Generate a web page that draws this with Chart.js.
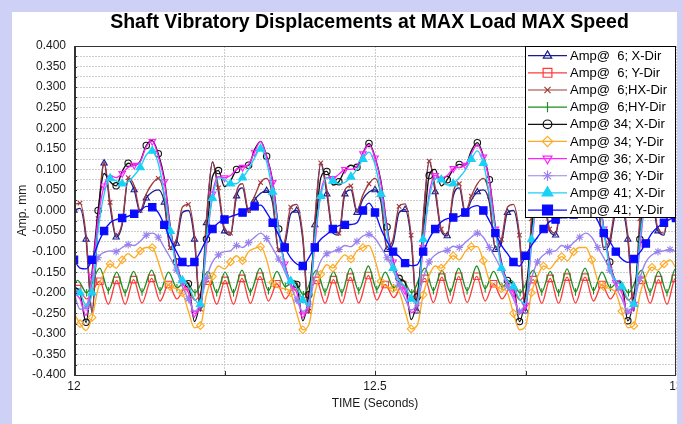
<!DOCTYPE html>
<html><head><meta charset="utf-8">
<script src="https://cdn.jsdelivr.net/npm/chart.js@4.4.1/dist/chart.umd.min.js"></script>
<style>html,body{margin:0;padding:0;background:#fff;overflow:hidden}canvas{display:block}</style>
</head><body>
<canvas id="c" width="683" height="424" style="width:683px;height:424px"></canvas>
<script>
const TITLE = 'Shaft Vibratory Displacements at MAX Load MAX Speed';
const X_TITLE = 'TIME (Seconds)';
const Y_TITLE = 'Amp. mm';
const X_TICK_LABELS = { '12': '12', '12.5': '12.5', '13': '13' };
const LABELS = ['Amp@  6; X-Dir','Amp@  6; Y-Dir','Amp@  6;HX-Dir','Amp@  6;HY-Dir','Amp@ 34; X-Dir',
                'Amp@ 34; Y-Dir','Amp@ 36; X-Dir','Amp@ 36; Y-Dir','Amp@ 41; X-Dir','Amp@ 41; Y-Dir'];

// time stamps (s), common sampling
const T = [12,12.01,12.02,12.03,12.04,12.05,12.06,12.07,12.08,12.09,12.1,12.11,12.12,12.13,12.14,12.15,12.16,12.17,12.18,12.19,
12.2,12.21,12.22,12.23,12.24,12.25,12.26,12.27,12.28,12.29,12.3,12.31,12.32,12.33,12.34,12.35,12.36,12.37,12.38,12.39,
12.4,12.41,12.42,12.43,12.44,12.45,12.46,12.47,12.48,12.49,12.5,12.51,12.52,12.53,12.54,12.55,12.56,12.57,12.58,12.59,
12.6,12.61,12.62,12.63,12.64,12.65,12.66,12.67,12.68,12.69,12.7,12.71,12.72,12.73,12.74,12.75,12.76,12.77,12.78,12.79,
12.8,12.81,12.82,12.83,12.84,12.85,12.86,12.87,12.88,12.89,12.9,12.91,12.92,12.93,12.94,12.95,12.96,12.97,12.98,12.99,13];

// time stamps (s) of the ripple turning points used for the Y / HY probes at station 6
const TR = [12.000,12.006,12.021,12.043,12.057,12.071,12.085,12.099,12.113,
12.129,12.143,12.157,12.171,12.186,12.201,12.223,12.237,12.251,12.265,12.279,12.293,
12.309,12.323,12.337,12.351,12.366,12.381,12.403,12.417,12.431,12.445,12.459,12.473,
12.489,12.503,12.517,12.531,12.546,12.561,12.583,12.597,12.611,12.625,12.639,12.653,
12.669,12.683,12.697,12.711,12.726,12.741,12.763,12.777,12.791,12.805,12.819,12.833,
12.849,12.863,12.877,12.891,12.906,12.921,12.943,12.957,12.971,12.985,12.999,13.013];

const AMP6_X = [0.0,0.005,-0.07,-0.25,-0.03,0.115,0.01,-0.065,-0.035,0.075,0.05,-0.005,0.03,
0.045,0.05,0.02,-0.095,-0.08,-0.005,0.0,-0.07,-0.245,-0.03,0.118,0.045,-0.05,-0.06,0.035,0.055,-0.005,0.025,
0.042,0.048,0.018,-0.1,-0.085,-0.008,0.0,-0.07,-0.25,-0.035,0.115,0.04,-0.055,-0.06,0.04,0.05,-0.005,0.028,
0.045,0.05,0.02,-0.095,-0.08,-0.005,0.002,-0.07,-0.245,-0.03,0.12,0.045,-0.05,-0.062,0.035,0.055,-0.008,0.025,
0.045,0.05,0.02,-0.095,-0.08,-0.005,0.0,-0.07,-0.245,-0.03,0.118,0.045,-0.05,-0.06,0.035,0.055,-0.005,0.025,
0.045,0.05,0.02,-0.095,-0.08,-0.005,0.0,-0.07,-0.245,-0.03,0.118,0.045,-0.05,-0.06,0.035,0.055];

const AMP6_Y = [-0.2,-0.19,-0.215,-0.172,-0.228,-0.17,-0.228,-0.168,-0.225,
-0.165,-0.22,-0.18,-0.215,-0.185,-0.218,-0.172,-0.228,-0.17,-0.228,-0.165,-0.226,
-0.16,-0.22,-0.178,-0.215,-0.185,-0.215,-0.17,-0.226,-0.168,-0.226,-0.162,-0.225,
-0.158,-0.218,-0.18,-0.212,-0.18,-0.215,-0.165,-0.224,-0.162,-0.226,-0.16,-0.224,
-0.16,-0.22,-0.178,-0.215,-0.185,-0.218,-0.168,-0.226,-0.165,-0.226,-0.162,-0.225,
-0.162,-0.22,-0.18,-0.215,-0.185,-0.218,-0.17,-0.226,-0.168,-0.228,-0.165,-0.223];

const AMP6_HX = [0.015,0.018,-0.06,-0.245,-0.02,0.118,0.02,-0.06,-0.03,0.08,0.06,0.0,0.04,
0.065,0.078,0.035,-0.09,-0.07,0.008,0.015,-0.06,-0.24,-0.02,0.118,0.055,-0.045,-0.055,0.045,0.065,0.0,0.035,
0.068,0.078,0.032,-0.095,-0.075,0.008,0.015,-0.06,-0.245,-0.025,0.116,0.05,-0.05,-0.055,0.05,0.06,0.0,0.038,
0.065,0.078,0.035,-0.09,-0.07,0.01,0.016,-0.06,-0.24,-0.02,0.12,0.055,-0.045,-0.058,0.045,0.065,-0.003,0.035,
0.065,0.078,0.035,-0.09,-0.07,0.008,0.015,-0.06,-0.24,-0.02,0.118,0.055,-0.045,-0.055,0.045,0.065,0.0,0.035,
0.065,0.078,0.035,-0.09,-0.07,0.008,0.015,-0.06,-0.24,-0.02,0.118,0.055,-0.045,-0.055,0.045,0.065];

const AMP6_HY = [-0.18,-0.17,-0.2,-0.14,-0.195,-0.15,-0.2,-0.148,-0.198,
-0.145,-0.195,-0.15,-0.188,-0.172,-0.2,-0.148,-0.2,-0.15,-0.2,-0.145,-0.198,
-0.14,-0.195,-0.148,-0.185,-0.17,-0.205,-0.145,-0.198,-0.148,-0.2,-0.14,-0.195,
-0.135,-0.192,-0.15,-0.188,-0.168,-0.2,-0.14,-0.195,-0.145,-0.198,-0.14,-0.195,
-0.135,-0.19,-0.148,-0.185,-0.17,-0.2,-0.145,-0.198,-0.148,-0.2,-0.142,-0.198,
-0.14,-0.195,-0.15,-0.188,-0.17,-0.2,-0.145,-0.198,-0.148,-0.2,-0.142,-0.195];

const AMP34_X = [-0.185,-0.2,-0.272,-0.15,0.0,0.09,0.07,0.06,0.095,0.115,0.11,0.12,0.158,
0.17,0.138,0.078,-0.04,-0.125,-0.17,-0.178,-0.27,-0.21,-0.07,0.082,0.097,0.058,0.072,0.1,0.108,0.11,0.148,
0.168,0.132,0.072,-0.045,-0.13,-0.172,-0.18,-0.268,-0.205,-0.065,0.08,0.095,0.062,0.07,0.098,0.11,0.105,0.14,
0.163,0.13,0.07,-0.04,-0.12,-0.165,-0.175,-0.265,-0.21,-0.07,0.085,0.1,0.06,0.075,0.1,0.112,0.11,0.145,
0.165,0.133,0.075,-0.04,-0.125,-0.17,-0.18,-0.27,-0.205,-0.06,0.085,0.095,0.06,0.072,0.1,0.108,0.11,0.145,
0.165,0.13,0.072,-0.045,-0.125,-0.17,-0.178,-0.268,-0.21,-0.07,0.08,0.095,0.06,0.072,0.1,0.108];

const AMP34_Y = [-0.25,-0.275,-0.292,-0.26,-0.19,-0.15,-0.13,-0.14,-0.12,-0.105,-0.115,-0.098,-0.09,
-0.09,-0.125,-0.17,-0.185,-0.19,-0.2,-0.245,-0.285,-0.28,-0.205,-0.16,-0.135,-0.142,-0.125,-0.11,-0.122,-0.1,-0.092,
-0.088,-0.12,-0.175,-0.188,-0.19,-0.2,-0.25,-0.29,-0.278,-0.2,-0.155,-0.132,-0.14,-0.122,-0.108,-0.118,-0.098,-0.09,
-0.085,-0.12,-0.172,-0.185,-0.19,-0.198,-0.245,-0.288,-0.28,-0.205,-0.158,-0.135,-0.14,-0.125,-0.11,-0.12,-0.1,-0.088,
-0.088,-0.122,-0.17,-0.185,-0.19,-0.2,-0.25,-0.29,-0.282,-0.2,-0.16,-0.135,-0.142,-0.125,-0.112,-0.122,-0.1,-0.09,
-0.09,-0.12,-0.17,-0.185,-0.19,-0.2,-0.245,-0.285,-0.28,-0.205,-0.16,-0.138,-0.145,-0.13,-0.12,-0.14];

const AMP36_X = [-0.2,-0.215,-0.255,-0.16,-0.02,0.06,0.085,0.08,0.09,0.105,0.11,0.118,0.155,
0.168,0.132,0.07,-0.045,-0.13,-0.175,-0.2,-0.25,-0.23,-0.09,0.04,0.082,0.08,0.085,0.1,0.105,0.112,0.142,
0.168,0.13,0.068,-0.05,-0.13,-0.178,-0.2,-0.252,-0.228,-0.085,0.045,0.08,0.078,0.088,0.1,0.1,0.108,0.138,
0.16,0.128,0.065,-0.045,-0.125,-0.17,-0.195,-0.248,-0.23,-0.09,0.04,0.085,0.08,0.085,0.102,0.105,0.11,0.138,
0.16,0.13,0.07,-0.045,-0.13,-0.175,-0.2,-0.25,-0.23,-0.085,0.04,0.082,0.08,0.085,0.1,0.105,0.11,0.14,
0.162,0.13,0.068,-0.045,-0.13,-0.175,-0.2,-0.25,-0.228,-0.09,0.04,0.082,0.08,0.085,0.1,0.105];

const AMP36_Y = [-0.2,-0.24,-0.235,-0.17,-0.115,-0.102,-0.098,-0.1,-0.09,-0.083,-0.085,-0.075,-0.06,
-0.055,-0.065,-0.09,-0.115,-0.145,-0.185,-0.215,-0.245,-0.225,-0.165,-0.125,-0.108,-0.1,-0.098,-0.085,-0.09,-0.078,-0.065,
-0.055,-0.068,-0.092,-0.118,-0.148,-0.185,-0.218,-0.245,-0.228,-0.165,-0.122,-0.105,-0.1,-0.095,-0.085,-0.088,-0.075,-0.062,
-0.058,-0.068,-0.09,-0.115,-0.145,-0.182,-0.215,-0.242,-0.225,-0.165,-0.125,-0.108,-0.1,-0.097,-0.087,-0.09,-0.078,-0.065,
-0.055,-0.065,-0.09,-0.115,-0.145,-0.185,-0.215,-0.245,-0.225,-0.165,-0.125,-0.108,-0.1,-0.098,-0.085,-0.09,-0.078,-0.065,
-0.055,-0.065,-0.09,-0.115,-0.145,-0.185,-0.215,-0.245,-0.225,-0.165,-0.125,-0.108,-0.1,-0.098,-0.095,-0.1];

const AMP41_X = [-0.19,-0.2,-0.23,-0.2,-0.05,0.04,0.078,0.072,0.065,0.07,0.085,0.105,0.135,
0.145,0.115,0.04,-0.05,-0.14,-0.17,-0.185,-0.215,-0.228,-0.07,0.03,0.08,0.075,0.065,0.065,0.08,0.1,0.128,
0.15,0.118,0.045,-0.05,-0.14,-0.172,-0.188,-0.218,-0.23,-0.065,0.035,0.08,0.072,0.065,0.068,0.082,0.1,0.125,
0.142,0.112,0.04,-0.055,-0.14,-0.17,-0.185,-0.215,-0.225,-0.07,0.03,0.078,0.075,0.062,0.065,0.08,0.098,0.125,
0.145,0.115,0.04,-0.05,-0.14,-0.17,-0.185,-0.215,-0.228,-0.07,0.03,0.08,0.075,0.065,0.065,0.08,0.1,0.128,
0.145,0.115,0.04,-0.05,-0.14,-0.17,-0.185,-0.215,-0.228,-0.07,0.03,0.08,0.075,0.065,0.065,0.08];

const AMP41_Y = [-0.12,-0.14,-0.142,-0.12,-0.08,-0.05,-0.03,-0.022,-0.018,-0.014,-0.008,0.0,0.01,
0.008,-0.005,-0.035,-0.07,-0.1,-0.125,-0.135,-0.125,-0.1,-0.07,-0.045,-0.03,-0.022,-0.015,-0.01,-0.005,0.005,0.01,
0.013,-0.005,-0.03,-0.06,-0.09,-0.115,-0.13,-0.135,-0.115,-0.09,-0.07,-0.058,-0.045,-0.037,-0.035,-0.034,-0.03,0.0,
0.018,-0.005,-0.045,-0.075,-0.1,-0.112,-0.128,-0.134,-0.132,-0.1,-0.068,-0.045,-0.028,-0.02,-0.017,-0.014,-0.005,0.008,
0.012,0.0,-0.025,-0.055,-0.085,-0.105,-0.125,-0.135,-0.11,-0.085,-0.065,-0.045,-0.027,-0.022,-0.018,-0.017,-0.01,0.0,
0.01,0.0,-0.025,-0.055,-0.075,-0.1,-0.118,-0.126,-0.118,-0.102,-0.08,-0.055,-0.04,-0.03,-0.021,-0.018];

const SERIES_X = [T, TR, T, TR, T, T, T, T, T, T];
const SERIES_Y = [AMP6_X, AMP6_Y, AMP6_HX, AMP6_HY, AMP34_X, AMP34_Y, AMP36_X, AMP36_Y, AMP41_X, AMP41_Y];

// appearance
const STYLE = [
  {color:'#1c1c8f', point:'triangle', rot:0,   r:3.6, filled:false, off:0.5},
  {color:'#ff3a3a', point:'rect',     rot:0,   r:4.6, filled:false, off:1},
  {color:'#a03a3a', point:'crossRot', rot:0,   r:3.2, filled:false, off:1.5},
  {color:'#1e8c1e', point:'line',     rot:90,  r:3.8, filled:false, off:0},
  {color:'#111111', point:'circle',   rot:0,   r:3.2, filled:false, off:1.0},
  {color:'#ffaa22', point:'rectRot',  rot:0,   r:3.8, filled:false, off:2.0},
  {color:'#ff22ff', point:'triangle', rot:180, r:3.8, filled:false, off:0.0},
  {color:'#9a82ee', point:'star',     rot:0,   r:3.8, filled:false, off:1.2},
  {color:'#18d2f6', point:'triangle', rot:0,   r:4.6, filled:true,  off:2.2},
  {color:'#0a0aff', point:'rect',     rot:0,   r:5.2, filled:true,  off:0.2},
];

function markerRadius(s, ripple) {
  return (c) => {
    const i = c.dataIndex;
    if (ripple) return ((i + s.off) % 2 === 0) ? s.r : 0;
    return Math.floor((i + s.off) / 2.5) !== Math.floor((i + s.off - 1) / 2.5) ? s.r : 0;
  };
}

const datasets = SERIES_Y.map((ys, n) => {
  const s = STYLE[n];
  const xs = SERIES_X[n];
  return {
    label: LABELS[n],
    data: ys.map((v, i) => ({ x: xs[i], y: v })),
    borderColor: s.color,
    borderWidth: 1.35,
    pointStyle: s.point,
    pointRotation: s.rot,
    pointRadius: markerRadius(s, xs === TR),
    pointBorderColor: s.color,
    pointBackgroundColor: s.filled ? s.color : 'rgba(0,0,0,0)',
    pointBorderWidth: 1.1,
    cubicInterpolationMode: 'monotone',
    fill: false,
    order: 9 - n,
  };
});

const FONT = '"Liberation Sans", Arial, sans-serif';

const framePlugin = {
  id: 'frame',
  beforeDraw(chart) {
    const c = chart.ctx;
    c.save(); c.fillStyle = '#ffffff'; c.fillRect(0, 0, chart.width, chart.height); c.restore();
  },
  afterDatasetsDraw(chart) {
    const c = chart.ctx, a = chart.chartArea;
    const xs = chart.scales.x, ys = chart.scales.y;
    c.save();
    // inner tick marks
    c.strokeStyle = '#333'; c.lineWidth = 1;
    c.beginPath();
    for (const t of [12.25, 12.5, 12.75]) {
      const px = Math.round(xs.getPixelForValue(t)) + 0.5;
      c.moveTo(px, a.bottom); c.lineTo(px, a.bottom - 4);
    }
    for (let k = -16; k <= 16; k++) {
      const py = Math.round(ys.getPixelForValue(k * 0.025)) + 0.5;
      c.moveTo(a.left, py); c.lineTo(a.left + 3, py);
    }
    c.stroke();
    // plot frame
    c.strokeStyle = '#333';
    c.strokeRect(Math.round(a.left) + 0.5, Math.round(a.top) + 0.5, Math.round(a.right - a.left) - 1, Math.round(a.bottom - a.top));
    c.beginPath(); c.moveTo(Math.round(a.left) + 1.5, a.top); c.lineTo(Math.round(a.left) + 1.5, a.bottom); c.stroke();
    // legend box
    const L = { x: 525.5, y: 46.5, w: 150, h: 171 };
    c.fillStyle = '#ffffff';
    c.fillRect(L.x, L.y, L.w, L.h);
    c.strokeStyle = '#000'; c.lineWidth = 1;
    c.strokeRect(L.x, L.y, L.w, L.h);
    c.font = '13px ' + FONT;
    c.textBaseline = 'middle'; c.textAlign = 'left';
    for (let n = 0; n < LABELS.length; n++) {
      const s = STYLE[n];
      const y = 55.7 + n * 17.15;
      c.strokeStyle = s.color; c.lineWidth = 1.2;
      c.beginPath(); c.moveTo(528, y); c.lineTo(567, y); c.stroke();
      c.fillStyle = s.filled ? s.color : 'rgba(0,0,0,0)';
      c.lineWidth = 1.2;
      Chart.helpers.drawPoint(c, { pointStyle: s.point, rotation: s.rot, radius: s.r * 1.35, borderWidth: 1.2 }, 547.5, y);
      c.fillStyle = '#000';
      c.fillText(LABELS[n], 570, y + 0.5);
    }
    c.restore();
  },
  afterDraw(chart) {
    const c = chart.ctx;
    c.save();
    // title
    c.fillStyle = '#000';
    c.font = 'bold 19.5px ' + FONT;
    c.textAlign = 'center'; c.textBaseline = 'middle';
    c.fillText(TITLE, 369.5, 22.5);
    // outer lavender band
    c.fillStyle = '#cfd0f6';
    c.fillRect(0, 0, chart.width, 12);
    c.fillRect(0, 0, 12, chart.height);
    c.fillRect(677, 0, chart.width - 677, chart.height);
    c.restore();
  }
};

function fmtY(v) {
  const r = Math.round(v * 1000);
  if (r % 50 !== 0) return '';
  const s = (r / 1000).toFixed(3);
  return s === '-0.000' ? '0.000' : s;
}

new Chart(document.getElementById('c'), {
  type: 'line',
  data: { datasets },
  options: {
    responsive: false,
    animation: false,
    events: [],
    layout: { padding: { top: 46, right: 7, left: 0, bottom: 0 } },
    plugins: { legend: { display: false }, tooltip: { enabled: false }, title: { display: false } },
    scales: {
      x: {
        type: 'linear', min: 12, max: 13,
        afterFit: (s) => { s.height = 49; s.paddingLeft = 0; s.paddingRight = 0; },
        ticks: {
          stepSize: 0.25, autoSkip: false, maxRotation: 0, padding: 4,
          color: '#1a1a1a', font: { family: FONT, size: 12 },
          callback: (v) => X_TICK_LABELS[String(Math.round(v * 100) / 100)] || ''
        },
        grid: { color: '#cdcdcd', lineWidth: 1, drawTicks: false },
        border: { display: false, dash: [2, 1] },
        title: { display: true, text: X_TITLE, color: '#1a1a1a', font: { family: FONT, size: 12 }, padding: { top: 0, bottom: 13 } }
      },
      y: {
        type: 'linear', min: -0.4, max: 0.4,
        afterFit: (s) => { s.width = 74; },
        ticks: {
          stepSize: 0.025, autoSkip: false, padding: 8,
          color: '#1a1a1a', font: { family: FONT, size: 12 },
          callback: (v) => fmtY(v)
        },
        grid: { color: '#cdcdcd', lineWidth: 1, drawTicks: false },
        border: { display: false, dash: [2, 1] },
        title: { display: true, text: Y_TITLE, color: '#1a1a1a', font: { family: FONT, size: 12 }, padding: { top: 15, bottom: 0 } }
      }
    }
  },
  plugins: [framePlugin]
});
</script>
</body></html>
